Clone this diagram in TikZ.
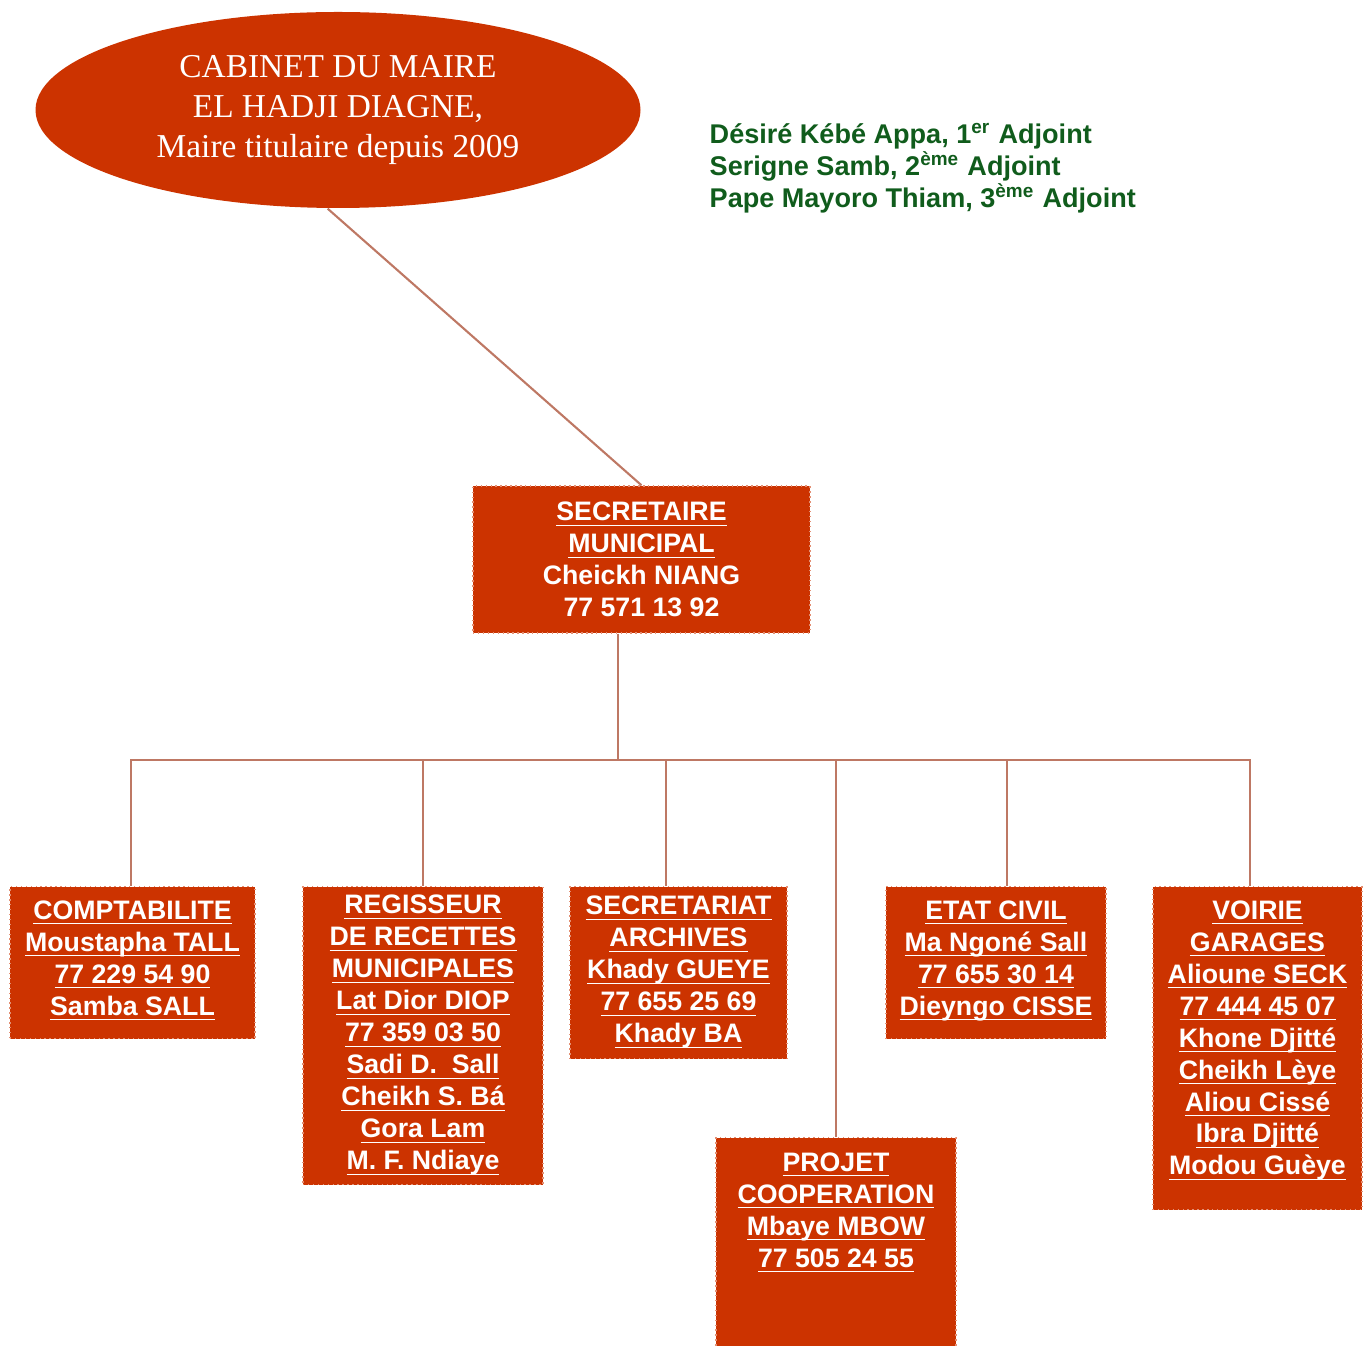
\documentclass[tikz,border=0pt]{standalone}
\usepackage{amsmath}
\usepackage{fontspec}
\setmainfont{Liberation Serif}
\setsansfont{Liberation Sans}
\usetikzlibrary{shapes.geometric}
\definecolor{boxred}{RGB}{204,51,0}
\definecolor{linkbrown}{RGB}{190,120,100}
\definecolor{adjgreen}{RGB}{16,92,28}
\newcommand{\undl}[1]{\underline{\smash[b]{#1}}}
\newcommand{\boxtop}{-8.86}
\tikzset{
    common/.style={fill=boxred, text=white, align=center, inner sep=0pt},
    service/.style={common, rectangle, draw=boxred!55!white, densely dotted, line width=0.4pt,
        font=\sffamily\bfseries\fontsize{7.6}{9.1}\selectfont},
    mayor/.style={common, ellipse, minimum width=6.05cm, minimum height=1.96cm,
        font=\fontsize{9.5}{11.4}\selectfont},
    deputies/.style={text=adjgreen, align=left, inner sep=0pt, anchor=west,
        font=\sffamily\bfseries\fontsize{7.7}{9.1}\selectfont},
    link/.style={draw=linkbrown, line width=0.6pt}
}
\begin{document}
\begin{tikzpicture}
    \useasboundingbox (0,0) rectangle (13.69,-13.46);

    \node[mayor] (cabinet) at (3.38,-1.10)
        {CABINET DU MAIRE\\EL HADJI DIAGNE,\\Maire titulaire depuis 2009};
    \node[deputies] (adjoints) at (7.09,-1.68)
        {Désiré Kébé Appa, 1\textsuperscript{er} Adjoint\\
         Serigne Samb, 2\textsuperscript{ème} Adjoint\\
         Pape Mayoro Thiam, 3\textsuperscript{ème} Adjoint};

    \node[service, minimum width=3.37cm, minimum height=1.47cm] (secgen) at (6.415,-5.595)
        {\undl{SECRETAIRE}\\\undl{MUNICIPAL}\\Cheickh NIANG\\77 571 13 92};

    % services
    \node[service, anchor=north, minimum width=2.45cm, minimum height=1.52cm, text depth=0.1cm] (compta) at (1.325,\boxtop)
        {\undl{COMPTABILITE}\\\undl{Moustapha TALL}\\\undl{77 229 54 90}\\\undl{Samba SALL}};
    \node[service, anchor=north, minimum width=2.40cm, minimum height=2.98cm] (regie) at (4.23,\boxtop)
        {\undl{REGISSEUR}\\\undl{DE RECETTES}\\\undl{MUNICIPALES}\\\undl{Lat Dior DIOP}\\\undl{77 359 03 50}\\
         \undl{Sadi D.\ \ Sall}\\\undl{Cheikh S. Bá}\\\undl{Gora Lam}\\\undl{M. F. Ndiaye}};
    \node[service, anchor=north, minimum width=2.17cm, minimum height=1.72cm] (secret) at (6.785,\boxtop)
        {\undl{SECRETARIAT}\\\undl{ARCHIVES}\\\undl{Khady GUEYE}\\\undl{77 655 25 69}\\\undl{Khady BA}};
    \node[service, anchor=north, minimum width=2.20cm, minimum height=1.52cm, text depth=0.1cm] (etat) at (9.96,\boxtop)
        {\undl{ETAT CIVIL}\\\undl{Ma Ngoné Sall}\\\undl{77 655 30 14}\\\undl{Dieyngo CISSE}};
    \node[service, anchor=north, minimum width=2.09cm, minimum height=3.23cm, text depth=0.21cm] (voirie) at (12.575,\boxtop)
        {\undl{VOIRIE}\\\undl{GARAGES}\\\undl{Alioune SECK}\\\undl{77 444 45 07}\\\undl{Khone Djitté}\\
         \undl{Cheikh Lèye}\\\undl{Aliou Cissé}\\\undl{Ibra Djitté}\\\undl{Modou Guèye}};
    \node[service, anchor=north, minimum width=2.40cm, minimum height=2.09cm, text depth=0.65cm] (projet) at (8.36,-11.37)
        {\undl{PROJET}\\\undl{COOPERATION}\\\undl{Mbaye MBOW}\\\undl{77 505 24 55}};

    \coordinate (bus) at (6.18,-7.60);
    \coordinate (bus-left) at (1.31,-7.60);
    \coordinate (bus-right) at (12.50,-7.60);

    \draw[link] (cabinet.264) -- (secgen.north);
    \draw[link] (secgen.south -| bus) -- (bus);
    \draw[link] (compta.north -| bus-left) -- (bus-left) -- (bus-right) -- (voirie.north -| bus-right);
    \draw[link] (regie.north) -- (regie.north |- bus);
    \draw[link] ([xshift=-1.25mm]secret.north) -- ([xshift=-1.25mm]secret.north |- bus);
    \draw[link] (projet.north) -- (projet.north |- bus);
    \draw[link] ([xshift=1.1mm]etat.north) -- ([xshift=1.1mm]etat.north |- bus);
\end{tikzpicture}
\end{document}
